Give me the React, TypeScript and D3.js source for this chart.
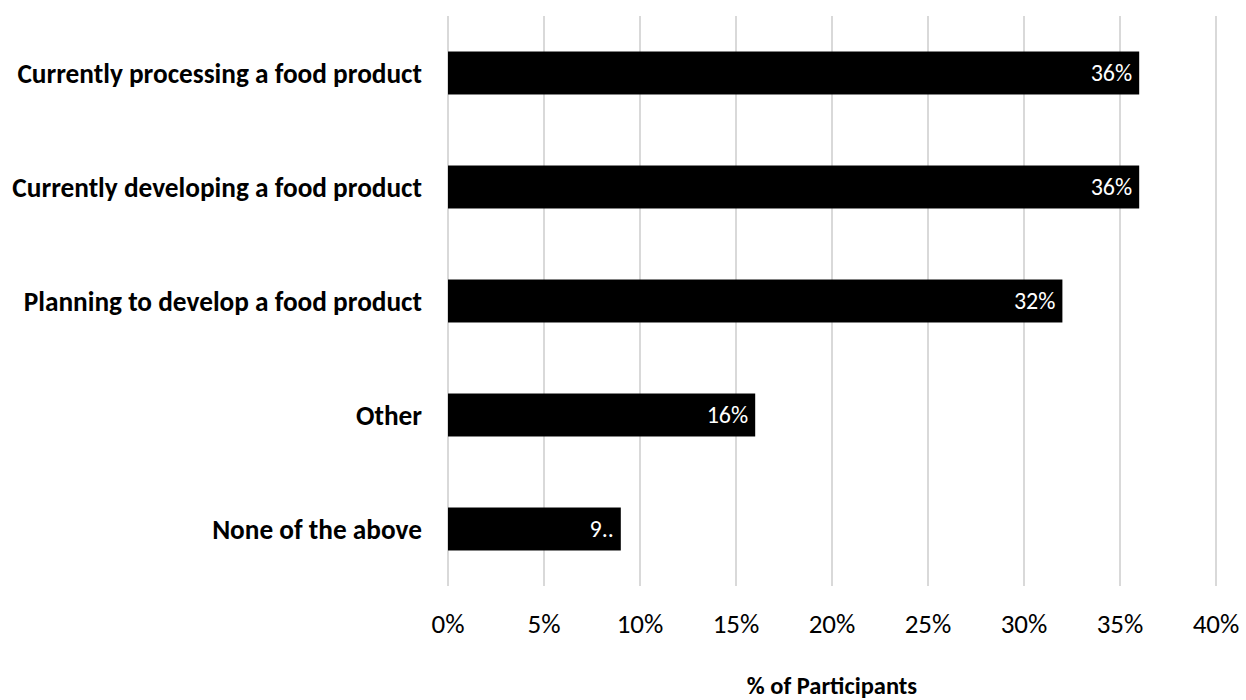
import React from "react";
import * as d3 from "d3";

const categories = [
  "Currently processing a food product",
  "Currently developing a food product",
  "Planning to develop a food product",
  "Other",
  "None of the above",
];
const values = [36, 36, 32, 16, 9];
const xTicks = [0, 5, 10, 15, 20, 25, 30, 35, 40];
const axisTitle = "% of Participants";

const W = 1246;
const H = 700;
const FONT = "Carlito, Lato, 'Open Sans', sans-serif";

export default function App() {
  const left = 448;
  const right = 1216;
  const top = 16;
  const bottom = 586;

  const x = d3.scaleLinear().domain([0, 40]).range([left, right]);
  const y = d3
    .scaleBand<string>()
    .domain(categories)
    .range([top, bottom])
    .paddingInner(0.623)
    .paddingOuter(0.3115);

  const labelFor = (v: number) => {
    const full = `${v}%`;
    return v < 10 ? `${String(v)[0]}..` : full;
  };

  return (
    <svg
      width={W}
      height={H}
      style={{ position: "absolute", left: 0, top: 0, background: "#fff" }}
      fontFamily={FONT}
    >
      <rect x={0} y={0} width={W} height={H} fill="#fff" />
      {xTicks.map((t) => (
        <line
          key={"g" + t}
          x1={x(t)}
          x2={x(t)}
          y1={top}
          y2={bottom}
          stroke="#d9d9d9"
          strokeWidth={2}
        />
      ))}
      {categories.map((c, i) => (
        <g key={c}>
          <rect
            x={x(0)}
            y={y(c)!}
            width={x(values[i]) - x(0)}
            height={y.bandwidth()}
            fill="#000"
          />
          <text
            x={x(values[i]) - 7}
            y={y(c)! + y.bandwidth() / 2}
            dy="0.35em"
            textAnchor="end"
            fill="#fff"
            fontSize={24}
          >
            {labelFor(values[i])}
          </text>
          <text
            x={x(0) - 26}
            y={y(c)! + y.bandwidth() / 2}
            dy="0.35em"
            textAnchor="end"
            fill="#000"
            fontSize={27.3}
            fontWeight="bold"
          >
            {c}
          </text>
        </g>
      ))}
      {xTicks.map((t) => (
        <text
          key={"t" + t}
          x={x(t)}
          y={624}
          dy="0.35em"
          textAnchor="middle"
          fill="#000"
          fontSize={27}
        >
          {`${t}%`}
        </text>
      ))}
      <text
        x={(left + right) / 2}
        y={685}
        dy="0.35em"
        textAnchor="middle"
        fill="#000"
        fontSize={24.5}
        fontWeight="bold"
      >
        {axisTitle}
      </text>
    </svg>
  );
}
